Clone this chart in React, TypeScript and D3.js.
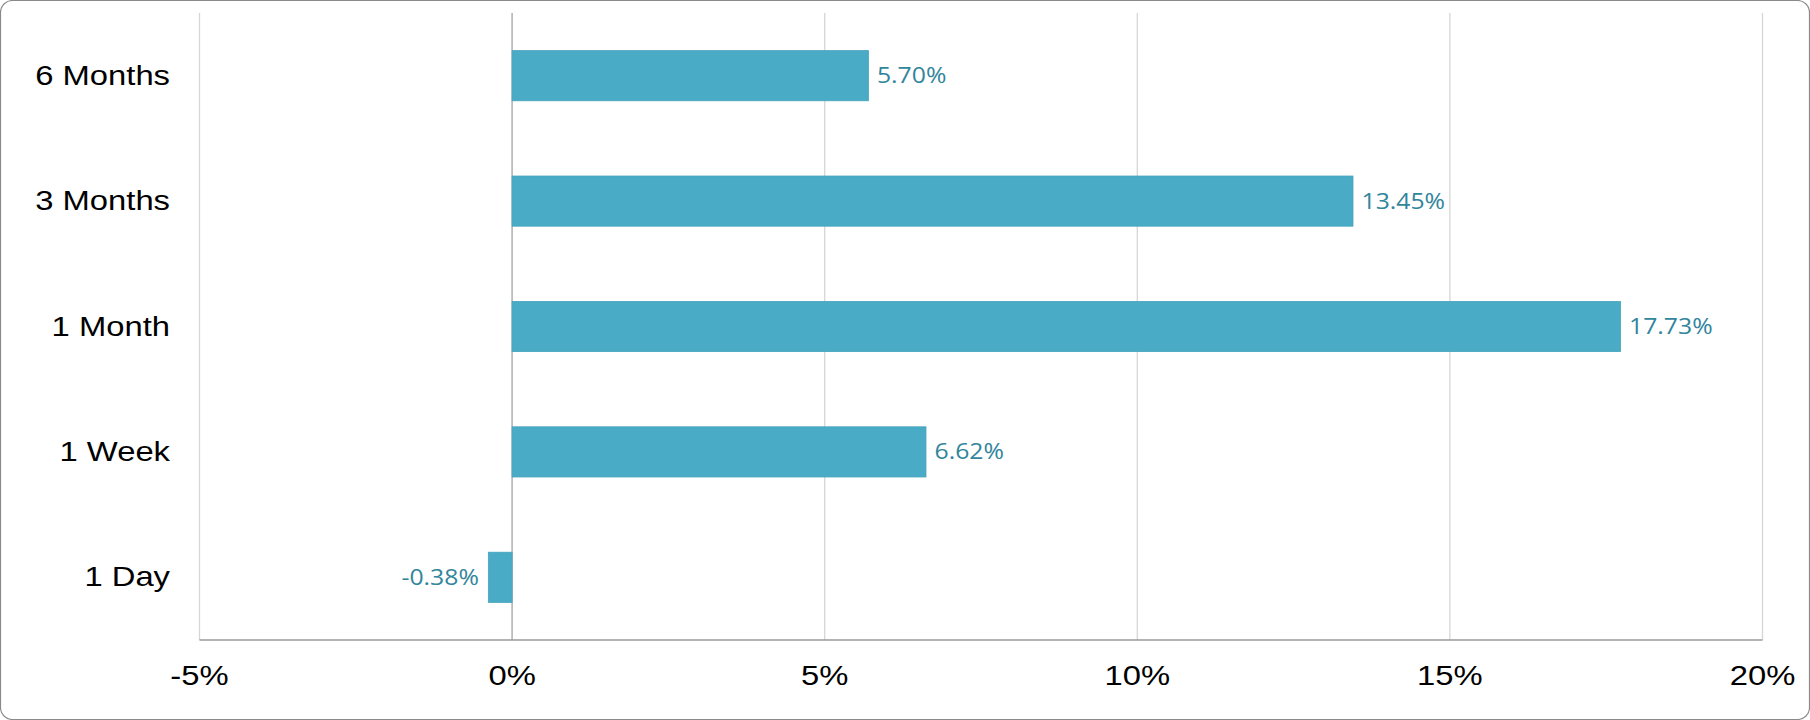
import React from "react";
import * as d3 from "d3";

const categories: string[] = ["6 Months", "3 Months", "1 Month", "1 Week", "1 Day"];
const returnsPct: number[] = [5.7, 13.45, 17.73, 6.62, -0.38];
const xTicks: number[] = [-5, 0, 5, 10, 15, 20];
const xTickLabels: string[] = ["-5%", "0%", "5%", "10%", "15%", "20%"];

const W = 1810;
const H = 720;
const plotLeft = 199.5;
const plotRight = 1762.5;
const plotTop = 13;
const plotBottom = 640;
const SX = 1.15;
const VSX = 1.1;

export default function App() {
  const x = d3.scaleLinear().domain([-5, 20]).range([plotLeft, plotRight]);
  const y = d3
    .scaleBand<string>()
    .domain(categories)
    .range([plotTop, plotBottom])
    .paddingInner(0.6)
    .paddingOuter(0.3);
  const bw = y.bandwidth();
  const armFont = "'Liberation Sans', Arial, sans-serif";

  return (
    <svg
      width={W}
      height={H}
      viewBox={`0 0 ${W} ${H}`}
      style={{ position: "absolute", left: 0, top: 0, display: "block" }}
    >
      <rect x={0.5} y={0.5} width={W - 1} height={H - 1} rx={12} ry={12} fill="#ffffff" stroke="#8a8a8a" strokeWidth={1.2} />
      {xTicks.map((t) => (
        <line
          key={"g" + t}
          x1={x(t)}
          x2={x(t)}
          y1={plotTop}
          y2={plotBottom}
          stroke={t === 0 ? "#b5b5b5" : "#d6d6d6"}
          strokeWidth={t === 0 ? 1.6 : 1.3}
        />
      ))}
      <line x1={plotLeft} x2={plotRight} y1={plotBottom} y2={plotBottom} stroke="#9a9a9a" strokeWidth={1.3} />
      {categories.map((c, i) => {
        const v = returnsPct[i];
        const y0 = y(c) as number;
        const x0 = x(Math.min(0, v));
        const x1 = x(Math.max(0, v));
        const cy = y0 + bw / 2;
        const label = v.toFixed(2) + "%";
        return (
          <g key={c}>
            <rect x={x0} y={y0} width={x1 - x0} height={bw} fill="#4aabc6" stroke="#45a3bd" strokeWidth={0.8} />
            <text
              transform={`translate(${v >= 0 ? x1 + 8.5 : x0 - 9.5}, ${cy + 7.5}) scale(${VSX}, 1)`}
              textAnchor={v >= 0 ? "start" : "end"}
              fontFamily="'Open Sans', sans-serif"
              fontSize={22.5}
              fill="#31859c"
            >
              {label}
            </text>
            <text
              transform={`translate(170, ${cy + 9}) scale(${SX}, 1)`}
              textAnchor="end"
              fontFamily={armFont}
              fontSize={28.5}
              fill="#000000"
            >
              {c}
            </text>
          </g>
        );
      })}
      {xTicks.map((t, i) => (
        <text
          key={"t" + t}
          transform={`translate(${x(t)}, 685) scale(${SX}, 1)`}
          textAnchor="middle"
          fontFamily={armFont}
          fontSize={28.5}
          fill="#000000"
        >
          {xTickLabels[i]}
        </text>
      ))}
    </svg>
  );
}
